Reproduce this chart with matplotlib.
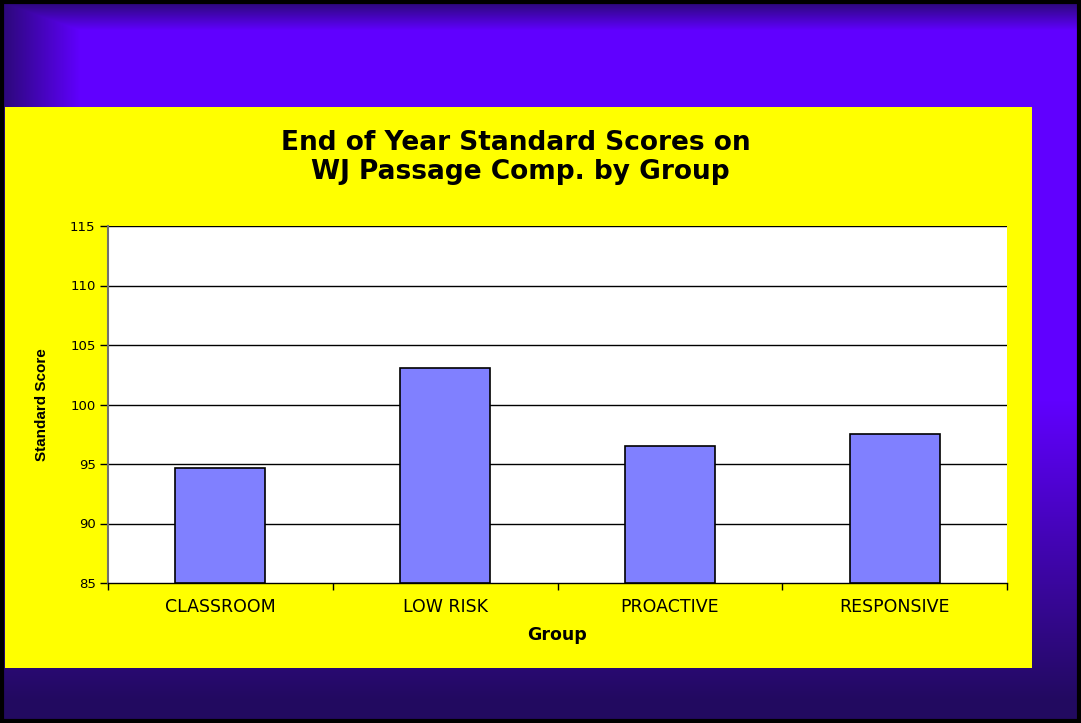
import numpy as np
import matplotlib
matplotlib.use('Agg')
import matplotlib.pyplot as plt
from matplotlib.patches import Rectangle

# the slide text is stretched wide, DejaVu Sans is the closest footprint
plt.rcParams['font.family'] = ['DejaVu Sans']

''' ========== data ========== '''
groups = ['CLASSROOM', 'LOW RISK', 'PROACTIVE', 'RESPONSIVE']
scores = [94.7, 103.1, 96.5, 97.5]
y_ticks = [85, 90, 95, 100, 105, 110, 115]

W, H = 1081, 723
fig = plt.figure(figsize=(W / 100, H / 100), dpi=100)

''' slide background - purple with dark edges '''
purple = np.array([96, 0, 255]) / 255
dark = np.array([34, 10, 96]) / 255
yy, xx = np.mgrid[0:H, 0:W]
ty = np.clip((yy - 2) / 28.0, 0, 1) * 0.85 + 0.15
ty = np.minimum(ty, np.clip((700 - yy) / 300.0, 0, 1))
tx = np.clip((xx - 2) / 78.0, 0, 1) * 0.85 + 0.15
tx = np.where(yy > 660, 1, tx)
t = np.minimum(tx, ty)[..., None]
bg = dark + t * (purple - dark)
bg_ax = fig.add_axes([0, 0, 1, 1])
bg_ax.imshow(bg, extent=[0, W, H, 0], aspect='auto', zorder=0)
bg_ax.add_patch(Rectangle((2, 2), W - 4, H - 4, fill=False, edgecolor='black', linewidth=3))
# yellow chart panel
bg_ax.add_patch(Rectangle((5, 107), 1027, 561, facecolor='#FFFF00', edgecolor='none'))
bg_ax.set_xlim(0, W)
bg_ax.set_ylim(H, 0)
bg_ax.axis('off')

''' chart '''
ax = fig.add_axes([108 / W, (H - 583) / H, 899 / W, 357 / H])
ax.set_facecolor('white')
x = np.arange(len(groups))
ax.bar(x, np.array(scores) - 85, bottom=85, width=0.4, color='#8080FF',
       edgecolor='black', linewidth=1.2, zorder=3)
ax.set_xlim(-0.5, len(groups) - 0.5)
ax.set_ylim(85, 115)
ax.set_yticks(y_ticks)
ax.set_yticklabels([str(v) for v in y_ticks], fontsize=9.5)
for v in y_ticks[1:]:
    ax.axhline(v, color='black', linewidth=1, zorder=1)

ax.set_xticks(x)
ax.set_xticklabels(groups, fontsize=12.5)
ax.tick_params(axis='x', length=0, pad=11)
ax.set_xticks(np.arange(len(groups) + 1) - 0.5, minor=True)
ax.tick_params(axis='x', which='minor', length=5, width=1, color='black', direction='out')
ax.tick_params(axis='y', length=6, width=1, color='black', direction='out', pad=3)

for s in ['top', 'right']:
    ax.spines[s].set_visible(False)
ax.spines['left'].set_color('#707070')
ax.spines['left'].set_linewidth(1.5)
ax.spines['bottom'].set_color('black')
ax.spines['bottom'].set_linewidth(1)

ax.set_xlabel('Group', fontsize=12.5, fontweight='bold', labelpad=7)
fig.text(42 / W, 1 - 405 / H, 'Standard Score', rotation=90, fontsize=11,
         fontweight='bold', ha='center', va='center', family='Liberation Sans')

fig.text(516 / W, 1 - 143 / H, 'End of Year Standard Scores on', fontsize=19,
         fontweight='bold', ha='center', va='center')
fig.text(520 / W, 1 - 172 / H, 'WJ Passage Comp. by Group', fontsize=19,
         fontweight='bold', ha='center', va='center')

fig.savefig('out.png', dpi=100)
